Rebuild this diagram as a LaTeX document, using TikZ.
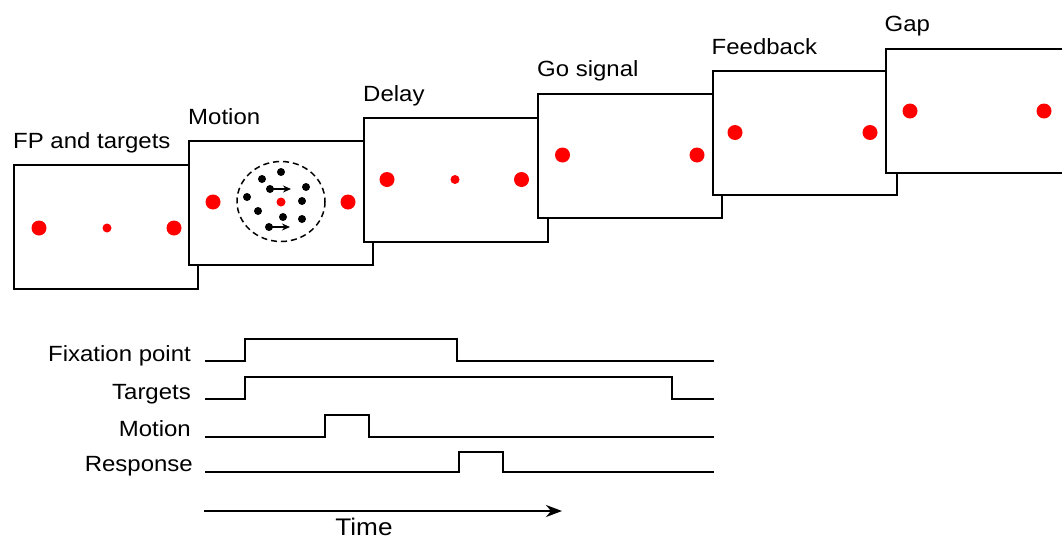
\documentclass[tikz,border=0pt]{standalone}
\usepackage{fontspec}
\setmainfont[FakeStretch=1.09]{Liberation Sans}
\usetikzlibrary{arrows.meta}
\begin{document}
\begin{tikzpicture}[x=1pt,y=-1pt,
  frame/.style={draw, fill=white, line width=2pt, minimum width=184pt, minimum height=124pt, inner sep=0pt, anchor=north west},
  ttl/.style={anchor=base west, inner sep=0pt, font=\fontsize{22}{26}\selectfont},
  lbl/.style={anchor=base east, inner sep=0pt, font=\fontsize{22}{26}\selectfont},
  bigdot/.style={circle, fill=red, inner sep=0pt, minimum size=15pt},
  smalldot/.style={circle, fill=red, inner sep=0pt, minimum size=9pt},
  blkdot/.style={circle, fill=black, inner sep=0pt, minimum size=8pt},
  trace/.style={line width=2pt, line join=miter},
  mvarrow/.style={line width=1.4pt, -{Stealth[length=8pt,width=7pt]}}
]
\clip (0,0) rectangle (1062,541);
\useasboundingbox (0,0) rectangle (1062,541);

% panel 1
\node[frame] (b1) at (13,164) {};
\node[ttl] (t1) at (13,148) {FP and targets};
\node[bigdot] (p1a) at (39,228) {};
\node[smalldot] (p1b) at (107,228) {};
\node[bigdot] (p1c) at (174,228) {};

% panel 2
\node[frame] (b2) at (188,140) {};
\node[ttl] (t2) at (188,124) {Motion};
\node[bigdot] (p2a) at (213,202) {};
\node[bigdot] (p2c) at (348,202) {};
\draw[dashed, dash pattern=on 6pt off 4pt, line width=1.5pt] (281,201.5) ellipse [x radius=44, y radius=40];
\node[smalldot] (p2b) at (281,202) {};
\node[blkdot] (d1) at (281,172) {};
\node[blkdot] (d2) at (262,179) {};
\node[blkdot] (d3) at (270,189) {};
\node[blkdot] (d4) at (306,187) {};
\node[blkdot] (d5) at (247,197) {};
\node[blkdot] (d6) at (302,201) {};
\node[blkdot] (d7) at (258,211) {};
\node[blkdot] (d8) at (283,217) {};
\node[blkdot] (d9) at (302,219) {};
\node[blkdot] (d10) at (269,227) {};
\coordinate (a3) at (291,189);
\coordinate (a10) at (290,227);
\draw[mvarrow] (d3.center) -- (a3);
\draw[mvarrow] (d10.center) -- (a10);

% panel 3
\node[frame] (b3) at (363,117) {};
\node[ttl] (t3) at (363,101) {Delay};
\node[bigdot] (p3a) at (387,179.5) {};
\node[smalldot] (p3b) at (455,179.5) {};
\node[bigdot] (p3c) at (521.5,179.5) {};

% panel 4
\node[frame] (b4) at (537,92.5) {};
\node[ttl] (t4) at (537,76.5) {Go signal};
\node[bigdot] (p4a) at (562.5,155) {};
\node[bigdot] (p4c) at (697,155) {};

% panel 5
\node[frame] (b5) at (711.5,70) {};
\node[ttl] (t5) at (711.5,54) {Feedback};
\node[bigdot] (p5a) at (735,132.5) {};
\node[bigdot] (p5c) at (870,132.5) {};

% panel 6
\node[frame] (b6) at (884.5,47.5) {};
\node[ttl] (t6) at (884.5,31.5) {Gap};
\node[bigdot] (p6a) at (910,111) {};
\node[bigdot] (p6c) at (1044,111) {};

% timing diagram
\node[lbl] (l1) at (191,361) {Fixation point};
\node[lbl] (l2) at (191,399) {Targets};
\node[lbl] (l3) at (191,436.5) {Motion};
\node[lbl] (l4) at (193,471) {Response};

\draw[trace] (205,361) -- (245,361) -- (245,339) -- (457,339) -- (457,361) -- (714,361);
\draw[trace] (205,399) -- (245,399) -- (245,377) -- (672,377) -- (672,399) -- (714,399);
\draw[trace] (205,436.5) -- (325,436.5) -- (325,415) -- (369,415) -- (369,436.5) -- (714,436.5);
\draw[trace] (205,471.5) -- (459,471.5) -- (459,451.5) -- (503,451.5) -- (503,471.5) -- (714,471.5);

\coordinate (ts) at (204,511);
\coordinate (te) at (562,511);
\draw[line width=1.8pt, -{Stealth[length=16pt,width=12pt,inset=5pt]}] (ts) -- (te);
\node[anchor=base, inner sep=0pt, font=\fontsize{24}{28}\selectfont] (time) at (364,535.5) {Time};
\end{tikzpicture}
\end{document}
